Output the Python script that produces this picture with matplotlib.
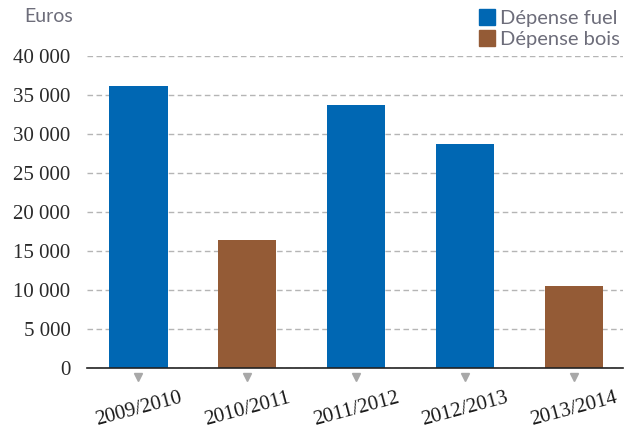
import matplotlib.pyplot as plt
from matplotlib.lines import Line2D
from matplotlib.ticker import FuncFormatter

seasons = ["2009/2010", "2010/2011", "2011/2012", "2012/2013", "2013/2014"]
depenses = [36200, 16400, 33800, 28800, 10500]
energie = ["fuel", "bois", "fuel", "fuel", "bois"]

couleurs = {"fuel": "#0067b3", "bois": "#945b36"}
legende = {"fuel": "Dépense fuel", "bois": "Dépense bois"}
y_ticks = [0, 5000, 10000, 15000, 20000, 25000, 30000, 35000, 40000]


def main():
    fig = plt.figure(figsize=(6.32, 4.29), dpi=100)
    ax = fig.add_axes([0.138, 0.142, 0.848, 0.727])

    x = range(len(seasons))
    ax.bar(x, depenses, width=0.535,
           color=[couleurs[e] for e in energie], zorder=3)

    ax.set_xlim(-0.47, 4.45)
    ax.set_ylim(0, 40000)
    ax.set_yticks(y_ticks)
    ax.yaxis.set_major_formatter(
        FuncFormatter(lambda v, p: f"{int(v):,}".replace(",", " ")))
    ax.grid(axis="y", linestyle=(0, (4, 2.5)), color="#b5b5b5", linewidth=1.0,
            zorder=0)

    for s in ["top", "right", "left"]:
        ax.spines[s].set_visible(False)
    ax.spines["bottom"].set_color("#222222")
    ax.spines["bottom"].set_linewidth(1.2)
    ax.spines["bottom"].set_zorder(4)

    ax.tick_params(axis="y", length=0, pad=12, labelsize=15,
                   labelcolor="#2a2a2a")
    ax.tick_params(axis="x", length=0, pad=15, labelsize=15,
                   labelcolor="#1a1a1a")
    ax.set_xticks(list(x))
    ax.set_xticklabels(seasons, rotation=15, ha="center",
                       family="Liberation Serif")
    for lab in ax.get_yticklabels():
        lab.set_family("Liberation Serif")

    # small grey markers under each bar
    ax.plot(list(x), [-0.03] * len(seasons), linestyle="none", marker="v",
            markersize=6, color="#a8a8a8", transform=ax.get_xaxis_transform(),
            clip_on=False)

    fig.text(0.116, 0.962, "Euros", ha="right", va="center", fontsize=14,
             color="#6d6d7a", family="Lato")

    handles = [Line2D([], [], linestyle="none", marker="s", markersize=11,
                      color=couleurs[k]) for k in ["fuel", "bois"]]
    fig.legend(handles, [legende["fuel"], legende["bois"]],
               loc="upper right", bbox_to_anchor=(1.01, 1.02), frameon=False,
               labelcolor="#6d6d7a", handlelength=0.7,
               handletextpad=0.3, labelspacing=0.2,
               prop={"family": "Lato", "size": 14.5})

    fig.savefig("out.png", dpi=100)


if __name__ == "__main__":
    main()
